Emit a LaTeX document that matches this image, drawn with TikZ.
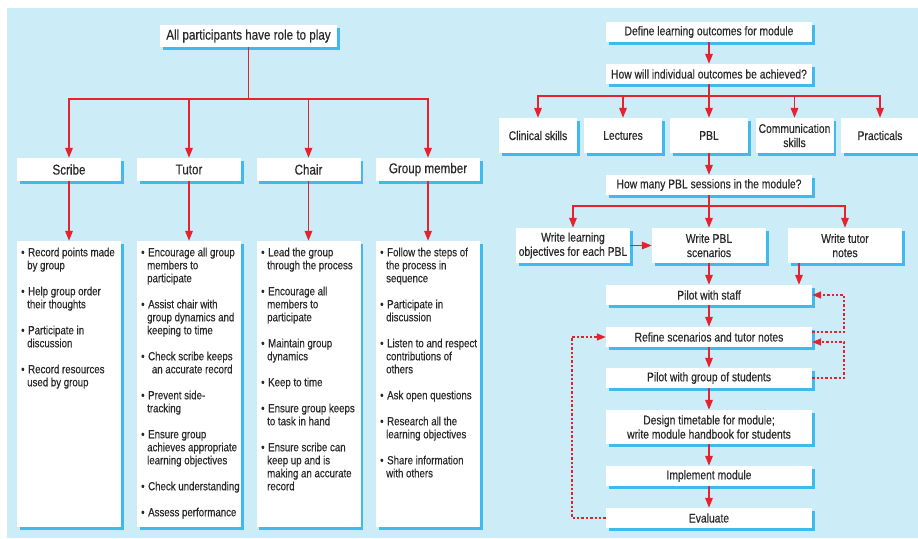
\documentclass[tikz,border=0pt]{standalone}
\usepackage{fontspec}
\setmainfont{Liberation Sans}[FakeStretch=0.82,FakeBold=0.35]
\usetikzlibrary{arrows.meta,shadows}
\definecolor{bg}{HTML}{CCEDF8}
\definecolor{shad}{HTML}{3FB9EE}
\definecolor{arr}{HTML}{E6222E}
\definecolor{txt}{HTML}{2A2A2A}
\newcommand\bu{\makebox[7pt][l]{•}}
\newcommand\ct{\hspace*{6pt}}
\begin{document}
\begin{tikzpicture}[x=1pt,y=-1pt,
  box/.style={fill=white, inner sep=2pt, align=center, text=txt,
    drop shadow={shadow xshift=2.6pt, shadow yshift=-2.6pt, fill=shad, opacity=1}},
  headL/.style={box, font=\fontsize{14.2}{16}\selectfont},
  headR/.style={box, font=\fontsize{12.6}{14.2}\selectfont},
  listtext/.style={anchor=north west, inner sep=0pt, align=left, text=txt,
    font=\fontsize{11.8}{13}\selectfont},
  arrow/.style={draw=arr, line width=1.8pt, -{Triangle[length=10pt,width=7.5pt]}},
  dotarrow/.style={draw=arr, line width=1.5pt, dash pattern=on 2.4pt off 2pt,
    -{Triangle[length=9pt,width=7pt]}}
]
\useasboundingbox (0,0) rectangle (918,538);
\fill[white] (0,0) rectangle (918,538);
\fill[bg] (7,8) rectangle (918,538);

% ---------------- left chart ----------------
\node[headL, minimum width=177pt, minimum height=22pt] (top) at (248.5,36) {All participants have role to play};

\node[headL, minimum width=104pt, minimum height=23pt] (scribe) at (69,169.5) {Scribe};
\node[headL, minimum width=104pt, minimum height=23pt] (tutor) at (189,169.5) {Tutor};
\node[headL, minimum width=104pt, minimum height=23pt] (chair) at (308.5,169.5) {Chair};
\node[headL, minimum width=104pt, minimum height=23pt] (group) at (428,169.5) {Group member};

\node[box, minimum width=104pt, minimum height=286pt] (lscribe) at (69,384) {};
\node[box, minimum width=104pt, minimum height=286pt] (ltutor) at (189,384) {};
\node[box, minimum width=104pt, minimum height=286pt] (lchair) at (308.5,384) {};
\node[box, minimum width=104pt, minimum height=286pt] (lgroup) at (428,384) {};

\node[listtext] (tscribe) at (21,247.5) {\bu Record points made\\\ct by group\\[13pt]
\bu Help group order\\\ct their thoughts\\[13pt]
\bu Participate in\\\ct discussion\\[13pt]
\bu Record resources\\\ct used by group};

\node[listtext] (ttutor) at (141,247.5) {\bu Encourage all group\\\ct members to\\\ct participate\\[13pt]
\bu Assist chair with\\\ct group dynamics and\\\ct keeping to time\\[13pt]
\bu Check scribe keeps\\\ct\hspace*{2pt} an accurate record\\[13pt]
\bu Prevent side-\\\ct tracking\\[13pt]
\bu Ensure group\\\ct achieves appropriate\\\ct learning objectives\\[13pt]
\bu Check understanding\\[13pt]
\bu Assess performance};

\node[listtext] (tchair) at (261,247.5) {\bu Lead the group\\\ct through the process\\[13pt]
\bu Encourage all\\\ct members to\\\ct participate\\[13pt]
\bu Maintain group\\\ct dynamics\\[13pt]
\bu Keep to time\\[13pt]
\bu Ensure group keeps\\\ct to task in hand\\[13pt]
\bu Ensure scribe can\\\ct keep up and is\\\ct making an accurate\\\ct record};

\node[listtext] (tgroup) at (380,247.5) {\bu Follow the steps of\\\ct the process in\\\ct sequence\\[13pt]
\bu Participate in\\\ct discussion\\[13pt]
\bu Listen to and respect\\\ct contributions of\\\ct others\\[13pt]
\bu Ask open questions\\[13pt]
\bu Research all the\\\ct learning objectives\\[13pt]
\bu Share information\\\ct with others};

\foreach \n in {scribe,tutor,chair,group}{
  \draw[arrow] (top.south) -- ++(0,52) -| (\n.north);
  \draw[arrow] (\n.south) -- (l\n.north);
}

% ---------------- right chart ----------------
\node[headR, minimum width=206pt, minimum height=20pt] (define) at (709,32) {Define learning outcomes for module};
\node[headR, minimum width=206pt, minimum height=20pt] (howwill) at (709,74) {How will individual outcomes be achieved?};

\node[headR, minimum width=78pt, minimum height=35pt] (clin) at (538,135.5) {Clinical skills};
\node[headR, minimum width=78pt, minimum height=35pt] (lect) at (623,135.5) {Lectures};
\node[headR, minimum width=78pt, minimum height=35pt] (pbl) at (709,135.5) {PBL};
\node[headR, minimum width=78pt, minimum height=35pt] (comm) at (794.5,135.5) {Communication\\skills};
\node[headR, minimum width=78pt, minimum height=35pt] (prac) at (880,135.5) {Practicals};

\node[headR, minimum width=206pt, minimum height=20pt] (howmany) at (709,185) {How many PBL sessions in the module?};

\node[headR, minimum width=114pt, minimum height=35pt] (wlo) at (573,245.5) {Write learning\\objectives for each PBL};
\node[headR, minimum width=114pt, minimum height=35pt] (wpbl) at (709,245.5) {Write PBL\\scenarios};
\node[headR, minimum width=114pt, minimum height=35pt] (wtut) at (845,245.5) {Write tutor\\notes};

\node[headR, minimum width=206pt, minimum height=20pt] (pstaff) at (709,295) {Pilot with staff};
\node[headR, minimum width=206pt, minimum height=20pt] (refine) at (709,337) {Refine scenarios and tutor notes};
\node[headR, minimum width=206pt, minimum height=20pt] (pgroup) at (709,378) {Pilot with group of students};
\node[headR, minimum width=206pt, minimum height=34pt] (design) at (709,427) {Design timetable for module;\\write module handbook for students};
\node[headR, minimum width=206pt, minimum height=20pt] (impl) at (709,476) {Implement module};
\node[headR, minimum width=206pt, minimum height=20pt] (eval) at (709,518) {Evaluate};

\draw[arrow] (define) -- (howwill);
\foreach \n in {clin,lect,pbl,comm,prac}{
  \draw[arrow] (howwill.south) -- ++(0,12) -| (\n.north);
}
\draw[arrow] (pbl) -- (howmany);
\foreach \n in {wlo,wpbl,wtut}{
  \draw[arrow] (howmany.south) -- ++(0,11) -| (\n.north);
}
\draw[arrow] (wlo) -- (wpbl);
\draw[arrow] (wpbl) -- (pstaff);
\coordinate (tx) at (799,0);
\draw[arrow] (wtut.south -| tx) -- (pstaff.north -| tx);
\draw[arrow] (pstaff) -- (refine);
\draw[arrow] (refine) -- (pgroup);
\draw[arrow] (pgroup) -- (design);
\draw[arrow] (design) -- (impl);
\draw[arrow] (impl) -- (eval);

\draw[dotarrow] ([yshift=5pt]refine.east) -- ++(32,0) |- (pstaff.east);
\draw[dotarrow] (pgroup.east) -- ++(32,0) |- ([yshift=-5pt]refine.east);
\draw[dotarrow] (eval.west) -- ++(-34,0) |- (refine.west);
\end{tikzpicture}
\end{document}
